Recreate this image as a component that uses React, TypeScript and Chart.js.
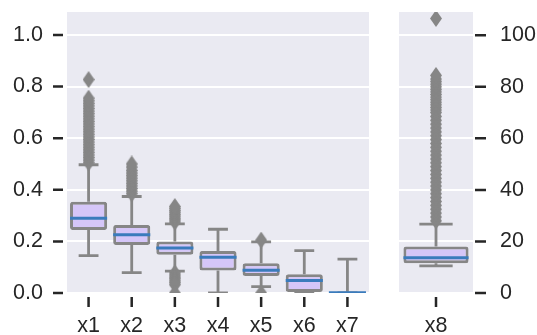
import React, { useEffect, useRef } from 'react';
import { Chart, registerables } from 'chart.js';
Chart.register(...registerables);

// ---------- data ----------
const leftCategories = ['x1', 'x2', 'x3', 'x4', 'x5', 'x6', 'x7'];
const leftQ1 = [0.244, 0.186, 0.148, 0.087, 0.066, 0.0, 0.0];
const leftQ3 = [0.354, 0.264, 0.2, 0.163, 0.115, 0.073, 0.002];
const leftMedian = [0.29, 0.226, 0.174, 0.139, 0.088, 0.048, 0.001];
const leftWhiskerLow = [0.145, 0.079, 0.085, 0.0, 0.025, 0.0, 0.0];
const leftWhiskerHigh = [0.497, 0.374, 0.268, 0.247, 0.198, 0.164, 0.131];
const leftOutliers: number[][] = [
  [0.505, 0.515, 0.525, 0.535, 0.545, 0.555, 0.565, 0.575, 0.585, 0.595, 0.605, 0.615, 0.625,
    0.635, 0.645, 0.655, 0.665, 0.675, 0.685, 0.695, 0.705, 0.715, 0.725, 0.735, 0.745, 0.755, 0.827],
  [0.385, 0.395, 0.405, 0.415, 0.425, 0.435, 0.445, 0.455, 0.465, 0.475, 0.488, 0.5],
  [0.275, 0.283, 0.29, 0.298, 0.305, 0.313, 0.32, 0.328, 0.335,
    0.078, 0.07, 0.062, 0.055, 0.047, 0.04, 0.032, 0.0],
  [],
  [0.205, 0.0],
  [],
  [],
];
const leftYTicks = [0, 0.2, 0.4, 0.6, 0.8, 1.0];
const leftYMax = 1.089;

const rightCategories = ['x8'];
const rightQ1 = [11.5];
const rightQ3 = [18];
const rightMedian = [13.7];
const rightWhiskerLow = [10.5];
const rightWhiskerHigh = [26.7];
const rightOutliers: number[][] = [
  [28, 29.5, 31, 32.5, 34, 35.5, 37, 38.5, 40, 41.5, 43, 44.5, 46, 47.5, 49, 50.5, 52, 53.5,
    55, 56.5, 58, 59.5, 61, 62.5, 64, 65.5, 67, 68.5, 70, 71, 72, 73, 74, 75, 76, 77, 78, 79,
    80, 81, 82, 83, 84.4, 106.5],
];
const rightYTicks = [0, 20, 40, 60, 80, 100];
const rightYMax = 109;

// ---------- style ----------
const FONT = "'Liberation Sans', Arial, sans-serif";
const FONT_SIZE = 21.5;
const TEXT = '#262626';
const BG = '#EAEAF2';
const GRAY = '#868686';
const BOX_FILL = '#D5C6F8';
const MEDIAN = '#3A7BBC';

function makeDiamond(): HTMLCanvasElement {
  const c = document.createElement('canvas');
  c.width = 12;
  c.height = 17;
  const ctx = c.getContext('2d')!;
  ctx.fillStyle = GRAY;
  ctx.beginPath();
  ctx.moveTo(6, 0);
  ctx.lineTo(12, 8.5);
  ctx.lineTo(6, 17);
  ctx.lineTo(0, 8.5);
  ctx.closePath();
  ctx.fill();
  return c;
}

interface PanelSpec {
  categories: string[];
  q1: number[];
  q3: number[];
  median: number[];
  wlo: number[];
  whi: number[];
  outliers: number[][];
  yTicks: number[];
  yMax: number;
  side: 'left' | 'right';
  boxFrac: number;
  capFrac: number;
  padding: { left: number; right: number; top: number; bottom: number };
  yWidth: number;
  yPad: number;
  fmt: (v: number) => string;
}

function buildConfig(p: PanelSpec, diamond: HTMLCanvasElement): any {
  const points: { x: string; y: number }[] = [];
  p.outliers.forEach((arr, i) => arr.forEach((v) => points.push({ x: p.categories[i], y: v })));

  const plugin = {
    id: 'boxplotParts',
    beforeDraw(chart: any) {
      const { ctx, chartArea: a } = chart;
      ctx.save();
      ctx.fillStyle = BG;
      ctx.fillRect(a.left, a.top, a.right - a.left, a.bottom - a.top);
      ctx.restore();
    },
    beforeDatasetsDraw(chart: any) {
      const { ctx, chartArea: a } = chart;
      const xs = chart.scales.x;
      const ys = chart.scales.y;
      const catW = xs.width / p.categories.length;
      ctx.save();
      ctx.beginPath();
      ctx.rect(a.left, a.top, a.right - a.left, a.bottom - a.top);
      ctx.clip();
      ctx.strokeStyle = GRAY;
      ctx.lineWidth = 2.8;
      ctx.lineCap = 'butt';
      p.categories.forEach((_, i) => {
        const cx = xs.getPixelForValue(i);
        const half = (catW * p.capFrac) / 2;
        const yq1 = ys.getPixelForValue(p.q1[i]);
        const yq3 = ys.getPixelForValue(p.q3[i]);
        const ylo = ys.getPixelForValue(p.wlo[i]);
        const yhi = ys.getPixelForValue(p.whi[i]);
        ctx.beginPath();
        ctx.moveTo(cx, yq3);
        ctx.lineTo(cx, yhi);
        ctx.moveTo(cx, yq1);
        ctx.lineTo(cx, ylo);
        ctx.moveTo(cx - half, yhi);
        ctx.lineTo(cx + half, yhi);
        ctx.moveTo(cx - half, ylo);
        ctx.lineTo(cx + half, ylo);
        ctx.stroke();
      });
      ctx.restore();
    },
    afterDatasetsDraw(chart: any) {
      const { ctx, chartArea: a } = chart;
      const xs = chart.scales.x;
      const ys = chart.scales.y;
      const catW = xs.width / p.categories.length;
      ctx.save();
      ctx.beginPath();
      ctx.rect(a.left, a.top, a.right - a.left, a.bottom - a.top);
      ctx.clip();
      ctx.strokeStyle = MEDIAN;
      ctx.lineWidth = 3;
      p.categories.forEach((_, i) => {
        const cx = xs.getPixelForValue(i);
        const half = (catW * p.boxFrac) / 2;
        const ym = ys.getPixelForValue(p.median[i]);
        ctx.beginPath();
        ctx.moveTo(cx - half, ym);
        ctx.lineTo(cx + half, ym);
        ctx.stroke();
      });
      ctx.restore();
    },
    afterDraw(chart: any) {
      const { ctx, chartArea: a } = chart;
      const xs = chart.scales.x;
      const ys = chart.scales.y;
      ctx.save();
      ctx.strokeStyle = TEXT;
      ctx.lineWidth = 2.5;
      ctx.beginPath();
      p.yTicks.forEach((v) => {
        const y = ys.getPixelForValue(v);
        if (p.side === 'left') {
          ctx.moveTo(a.left - 14, y);
          ctx.lineTo(a.left - 4, y);
        } else {
          ctx.moveTo(a.right + 2, y);
          ctx.lineTo(a.right + 13, y);
        }
      });
      p.categories.forEach((_, i) => {
        const x = xs.getPixelForValue(i);
        ctx.moveTo(x, a.bottom + 4);
        ctx.lineTo(x, a.bottom + 14);
      });
      ctx.stroke();
      ctx.restore();
    },
  };

  return {
    type: 'bar',
    data: {
      labels: p.categories,
      datasets: [
        {
          type: 'line',
          data: points,
          showLine: false,
          pointStyle: diamond,
          pointRadius: 6,
          pointHoverRadius: 6,
          pointBackgroundColor: GRAY,
          pointBorderColor: GRAY,
          clip: 0,
          order: 1,
        },
        {
          type: 'bar',
          data: p.categories.map((_, i) => [p.q1[i], p.q3[i]]),
          backgroundColor: BOX_FILL,
          borderColor: GRAY,
          borderWidth: 3,
          borderSkipped: false,
          borderRadius: 2.5,
          barPercentage: p.boxFrac,
          categoryPercentage: 1,
          clip: 0,
          order: 2,
        },
      ],
    },
    options: {
      animation: false,
      responsive: false,
      events: [],
      layout: { padding: p.padding },
      plugins: { legend: { display: false }, tooltip: { enabled: false } },
      scales: {
        x: {
          type: 'category',
          grid: { display: false, drawTicks: false },
          border: { display: false },
          ticks: { font: { family: FONT, size: FONT_SIZE }, color: TEXT, padding: 20, maxRotation: 0 },
          afterFit: (s: any) => {
            s.height = 42;
            s.paddingLeft = 0;
            s.paddingRight = 0;
          },
        },
        y: {
          type: 'linear',
          position: p.side,
          min: 0,
          max: p.yMax,
          afterBuildTicks: (s: any) => {
            s.ticks = p.yTicks.map((v) => ({ value: v }));
          },
          grid: { color: '#FFFFFF', lineWidth: 2, drawTicks: false },
          border: { display: false },
          ticks: {
            font: { family: FONT, size: FONT_SIZE },
            color: TEXT,
            padding: p.yPad,
            callback: (v: any) => p.fmt(Number(v)),
          },
          afterFit: (s: any) => {
            s.width = p.yWidth;
            s.paddingTop = 0;
            s.paddingBottom = 0;
          },
        },
      },
    },
    plugins: [plugin],
  };
}

export default function App() {
  const leftRef = useRef<HTMLCanvasElement>(null);
  const rightRef = useRef<HTMLCanvasElement>(null);

  useEffect(() => {
    const diamond = makeDiamond();
    const left = new Chart(
      leftRef.current!,
      buildConfig(
        {
          categories: leftCategories,
          q1: leftQ1,
          q3: leftQ3,
          median: leftMedian,
          wlo: leftWhiskerLow,
          whi: leftWhiskerHigh,
          outliers: leftOutliers,
          yTicks: leftYTicks,
          yMax: leftYMax,
          side: 'left',
          boxFrac: 0.86,
          capFrac: 0.46,
          padding: { left: 0, right: 11, top: 12, bottom: 0 },
          yWidth: 67,
          yPad: 24,
          fmt: (v) => v.toFixed(1),
        },
        diamond
      )
    );
    const right = new Chart(
      rightRef.current!,
      buildConfig(
        {
          categories: rightCategories,
          q1: rightQ1,
          q3: rightQ3,
          median: rightMedian,
          wlo: rightWhiskerLow,
          whi: rightWhiskerHigh,
          outliers: rightOutliers,
          yTicks: rightYTicks,
          yMax: rightYMax,
          side: 'right',
          boxFrac: 0.88,
          capFrac: 0.45,
          padding: { left: 19, right: 0, top: 12, bottom: 0 },
          yWidth: 64,
          yPad: 27,
          fmt: (v) => String(Math.round(v)),
        },
        diamond
      )
    );
    return () => {
      left.destroy();
      right.destroy();
    };
  }, []);

  return (
    <div style={{ position: 'absolute', left: 0, top: 0, width: 537, height: 335, background: '#FFFFFF' }}>
      <canvas ref={leftRef} width={380} height={335} style={{ position: 'absolute', left: 0, top: 0 }} />
      <canvas ref={rightRef} width={157} height={335} style={{ position: 'absolute', left: 380, top: 0 }} />
    </div>
  );
}
